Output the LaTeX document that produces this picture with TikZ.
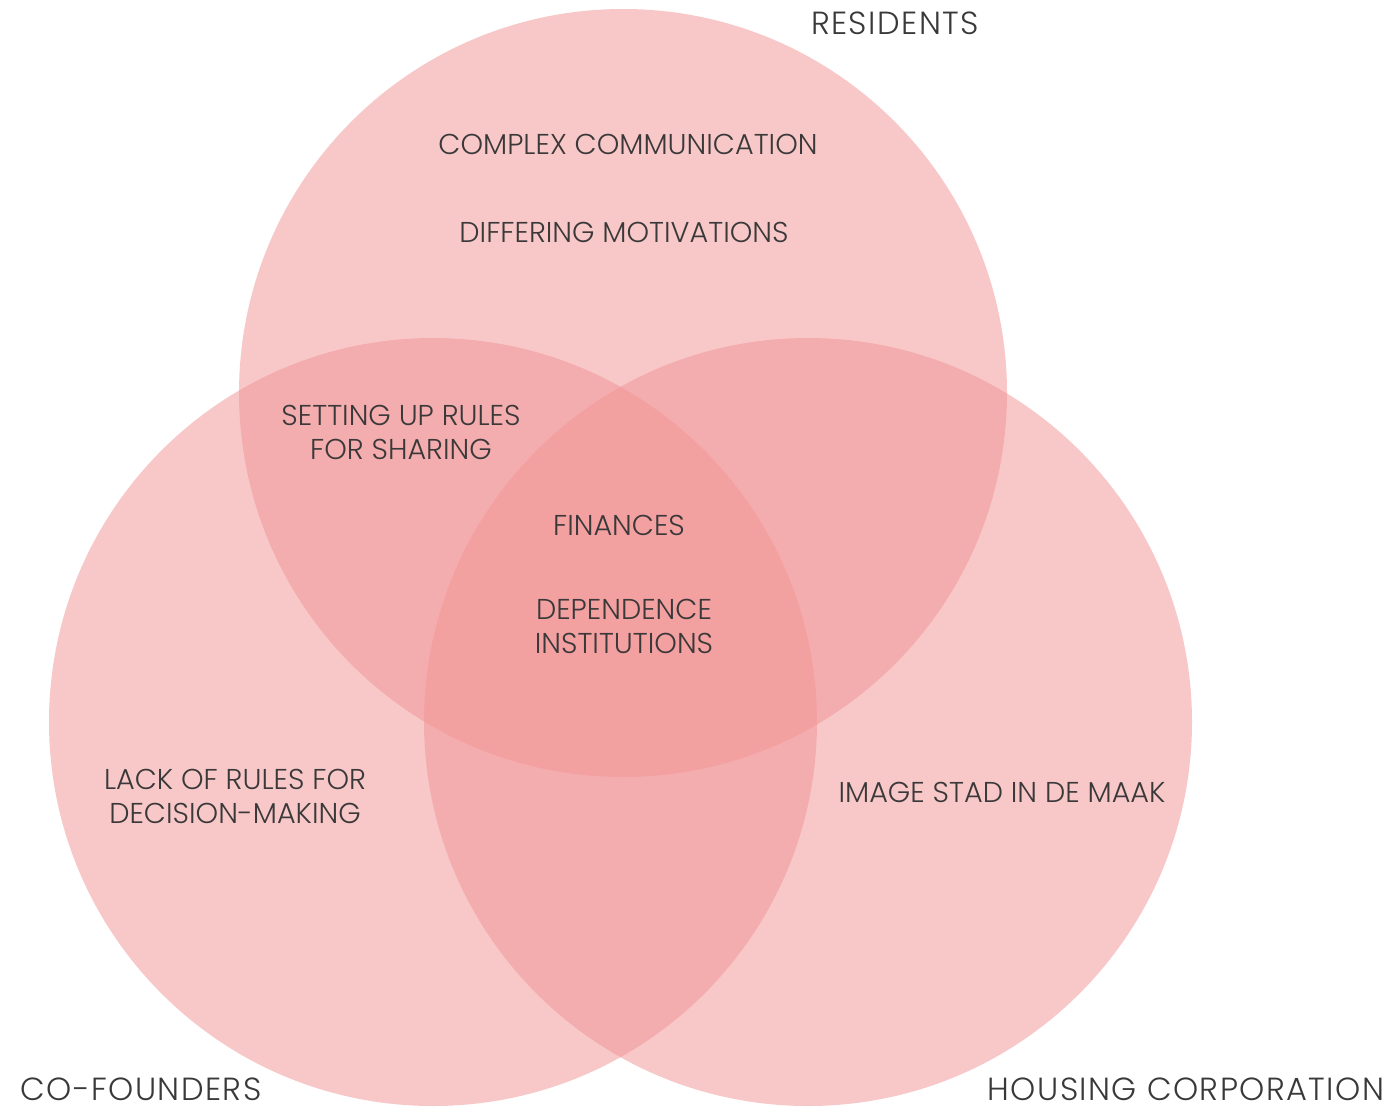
\documentclass[tikz,border=0pt]{standalone}
\usepackage{fontspec}
\setmainfont{Poppins Light}
\definecolor{venn}{RGB}{241,147,149}
\definecolor{ink}{RGB}{58,56,56}
\begin{document}
\begin{tikzpicture}[x=1pt,y=-1pt,
  set/.style={fill=venn,fill opacity=0.51,draw=none},
  lab/.style={text=ink,font=\fontsize{28.7}{34}\selectfont,align=center,inner sep=0pt,anchor=center},
  big/.style={lab,font=\fontsize{32}{38}\selectfont\addfontfeature{LetterSpace=4.5}}]
\useasboundingbox (0,0) rectangle (1394,1111);
\fill[set] (623,393) circle (384);
\fill[set] (433,722) circle (384);
\fill[set] (808,722) circle (384);
\node[big] (res) at (895,23) {RESIDENTS};
\node[big] (cof) at (141,1089) {CO-FOUNDERS};
\node[big] (hou) at (1186,1089) {HOUSING CORPORATION};
\node[lab] (cc) at (628,144) {COMPLEX COMMUNICATION};
\node[lab] (dm) at (624,232) {DIFFERING MOTIVATIONS};
\node[lab] (sur) at (401,432) {SETTING UP RULES\\FOR SHARING};
\node[lab] (fin) at (619,525) {FINANCES};
\node[lab] (dep) at (624,626) {DEPENDENCE\\INSTITUTIONS};
\node[lab] (lor) at (235,796) {LACK OF RULES FOR\\DECISION-MAKING};
\node[lab] (img) at (1002,792) {IMAGE STAD IN DE MAAK};
\end{tikzpicture}
\end{document}
